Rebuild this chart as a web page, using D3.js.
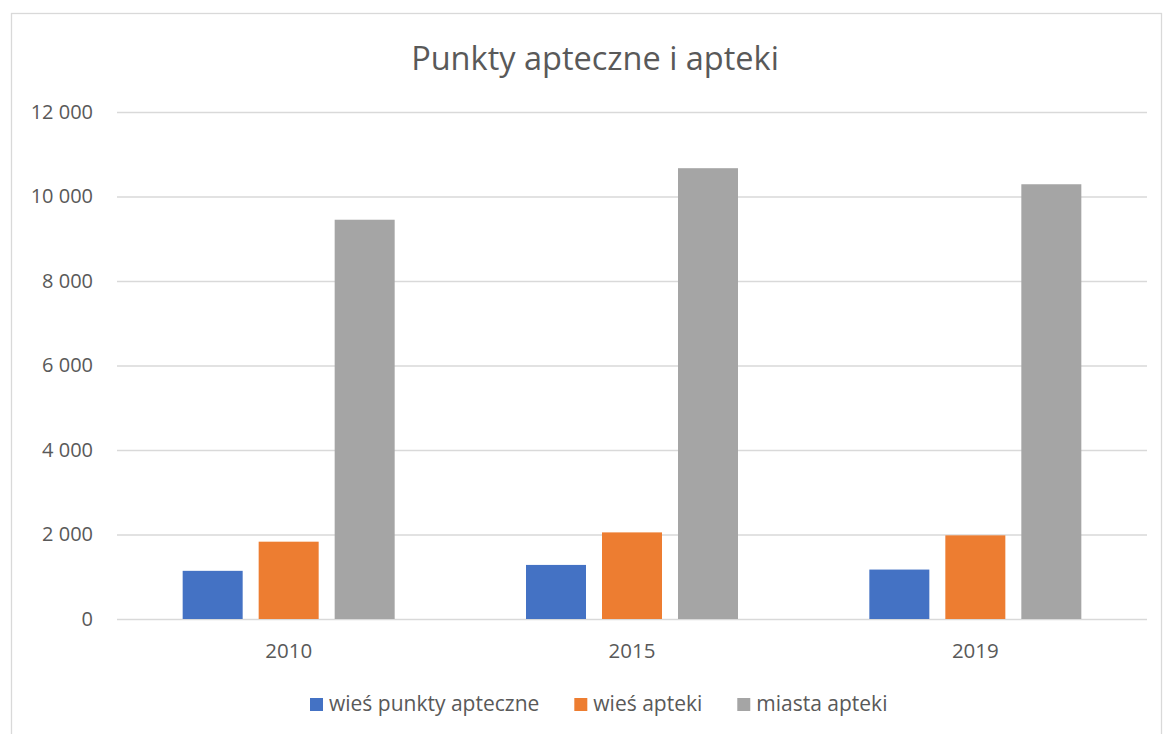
<!DOCTYPE html>
<html>
<head>
<meta charset="utf-8">
<script src="https://cdn.jsdelivr.net/npm/d3@7"></script>
<style>
  html, body { margin: 0; padding: 0; background: #fff; }
  svg { display: block; }
  text { font-family: "Open Sans", sans-serif; fill: #595959; }
</style>
</head>
<body>
<svg id="chart" width="1163" height="734"></svg>
<script>
const title = "Punkty apteczne i apteki";
const years = ["2010", "2015", "2019"];
const seriesNames = ["wieś punkty apteczne", "wieś apteki", "miasta apteki"];
const ruralPharmacyPoints = [1140, 1280, 1170];
const ruralPharmacies = [1830, 2050, 1980];
const urbanPharmacies = [9450, 10670, 10290];
const yTicks = [0, 2000, 4000, 6000, 8000, 10000, 12000];
const colors = ["#4472C4", "#ED7D31", "#A5A5A5"];

const seriesValues = [ruralPharmacyPoints, ruralPharmacies, urbanPharmacies];
const rows = years.map((yr, i) => ({
  year: yr,
  values: seriesNames.map((s, j) => ({ series: s, value: seriesValues[j][i] }))
}));

const svg = d3.select("#chart");
const plot = { left: 117, right: 1147, top: 112, bottom: 619 };

// outer chart border
svg.append("rect")
  .attr("x", 11.5).attr("y", 13.5)
  .attr("width", 1150).attr("height", 740)
  .attr("fill", "#fff").attr("stroke", "#D9D9D9").attr("stroke-width", 1.3);

// title
svg.append("text")
  .attr("x", 595).attr("y", 70)
  .attr("text-anchor", "middle")
  .style("font-size", "32.5px")
  .text(title);

const x0 = d3.scaleBand().domain(years).range([plot.left, plot.right]).padding(0);
const groupW = 212;
const x1 = d3.scaleBand().domain(seriesNames).range([0, groupW]).paddingInner(0.2105);
const y = d3.scaleLinear().domain([0, 12000]).range([plot.bottom, plot.top]);

const fmt = d3.formatLocale({ decimal: ",", thousands: "\u00a0", grouping: [3], currency: ["", ""] }).format(",d");

// y axis with gridlines
const yAxis = svg.append("g")
  .attr("transform", `translate(${plot.left},0)`)
  .call(d3.axisLeft(y).tickValues(yTicks).tickFormat(fmt)
    .tickSize(-(plot.right - plot.left)).tickPadding(24));
yAxis.select(".domain").remove();
yAxis.selectAll(".tick line").attr("stroke", "#D9D9D9").attr("stroke-width", 1.3);
yAxis.selectAll(".tick text").style("font-size", "20px").attr("fill", "#595959");

// bars
const groups = svg.append("g").selectAll("g").data(rows).join("g")
  .attr("transform", d => `translate(${x0(d.year) + (x0.bandwidth() - groupW) / 2},0)`);
groups.selectAll("rect").data(d => d.values).join("rect")
  .attr("x", d => x1(d.series))
  .attr("width", x1.bandwidth())
  .attr("y", d => y(d.value))
  .attr("height", d => y(0) - y(d.value))
  .attr("fill", (d, i) => colors[i]);

// x axis labels
const xAxis = svg.append("g")
  .attr("transform", `translate(0,${plot.bottom})`)
  .call(d3.axisBottom(x0).tickSize(0).tickPadding(24));
xAxis.select(".domain").remove();
xAxis.selectAll(".tick text").style("font-size", "20.5px").attr("fill", "#595959");

// legend
const legend = svg.append("g").attr("transform", "translate(310,0)");
let lx = 0;
seriesNames.forEach((name, i) => {
  const g = legend.append("g").attr("transform", `translate(${lx},0)`);
  g.append("rect").attr("x", 0).attr("y", 698).attr("width", 13).attr("height", 13).attr("fill", colors[i]);
  const t = g.append("text").attr("x", 19).attr("y", 711).style("font-size", "21px").text(name);
  const w = t.node().getComputedTextLength();
  lx += 19 + w + 35;
});
</script>
</body>
</html>
